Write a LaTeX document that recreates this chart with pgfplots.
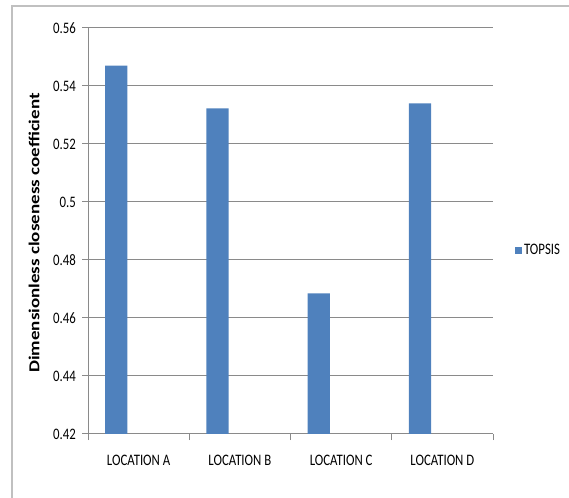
\documentclass[border=0pt]{standalone}
\usepackage{fontspec}
\setmainfont{Carlito}
\newfontfamily\narrowfont[FakeStretch=0.8]{Carlito}
\usepackage{pgfplots}
\usepackage{graphicx}
\pgfplotsset{compat=1.18}
\definecolor{barblue}{HTML}{4F81BD}
\definecolor{gridgray}{HTML}{8A8A8A}
\definecolor{framegray}{HTML}{C0C0C0}

\begin{document}
\begin{tikzpicture}
\path[use as bounding box] (0pt,0pt) rectangle (569pt,497pt);
% outer chart frame
\draw[framegray, line width=1.5pt] (12pt,-2pt) -- (12pt,491pt) -- (571pt,491pt);
\begin{axis}[
  at={(88pt,63pt)}, anchor=south west, scale only axis,
  width=405pt, height=406pt,
  xmin=-0.5, xmax=3.5, ymin=0.42, ymax=0.56,
  ytick={0.42,0.44,0.46,0.48,0.50,0.52,0.54,0.56},
  yticklabels={0.42,0.44,0.46,0.48,0.5,0.52,0.54,0.56},
  xtick={-0.5,0.5,1.5,2.5,3.5}, xticklabels={},
  extra x ticks={0,1,2,3},
  extra x tick labels={LOCATION A,LOCATION B,LOCATION C,LOCATION D},
  extra x tick style={major tick length=0pt, grid=none,
    xticklabel style={anchor=north, inner sep=0pt, yshift=-21pt}},
  ymajorgrids, xmajorgrids=false,
  grid style={gridgray, line width=1pt},
  axis x line*=bottom, axis y line*=left,
  axis line style={gridgray, line width=1pt, -},
  tick style={gridgray, line width=1pt},
  major tick length=6pt, tick align=outside,
  /pgf/number format/assume math mode=true,
  ticklabel style={font=\narrowfont\fontsize{16}{16}\selectfont, text=black},
  yticklabel style={inner xsep=0pt, xshift=-6pt},
  ylabel={\scalebox{1}[0.8]{\fontsize{19}{19}\selectfont\bfseries Dimensionless closeness coefficient}},
  ylabel style={at={(axis description cs:-0.133,0.495)}, anchor=center},
  legend style={at={(1.054,0.453)}, anchor=west, draw=none, fill=none,
    inner sep=0pt, font=\narrowfont\fontsize{16}{16}\selectfont,
    nodes={inner xsep=2pt, inner ysep=0pt}},
  legend image code/.code={\fill[barblue] (0pt,-3.5pt) rectangle (7pt,3.5pt);},
]
\addplot[ybar, fill=barblue, draw=none, bar width=0.22, bar shift=-0.22]
  coordinates {(0,0.547) (1,0.5323) (2,0.4685) (3,0.534)};
\addlegendentry{TOPSIS}
\end{axis}
\end{tikzpicture}
\end{document}
